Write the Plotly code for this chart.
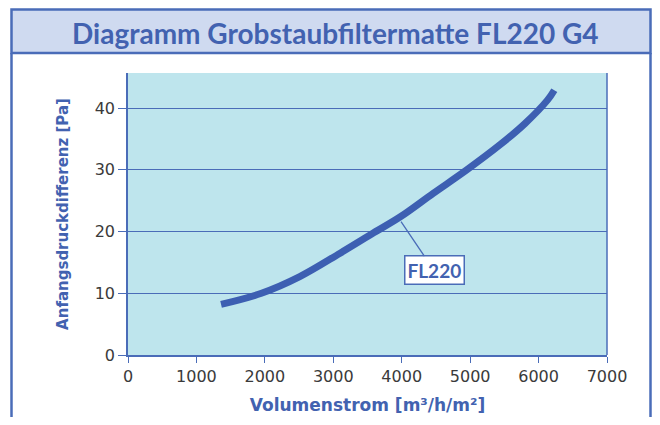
import plotly.graph_objects as go

flow = [1360, 1950, 2510, 3100, 3590, 3980, 4460, 4950, 5440, 5800, 6130, 6230]
pressure = [8.2, 10.0, 12.7, 16.5, 19.8, 22.4, 26.2, 30.0, 34.1, 37.5, 41.3, 42.9]
x_ticks = [0, 1000, 2000, 3000, 4000, 5000, 6000, 7000]
y_ticks = [0, 10, 20, 30, 40]
series_name = "FL220"

# page body has an 8px margin; positions below are in reference-image pixels
OFF = 8
W, H = 660 - 2 * OFF, 425 - 2 * OFF
L, R, T, B = 128 - OFF, 607 - OFF, 73 - OFF, 355 - OFF
BLUE = "#4262b0"
LINE = "#4a6cb8"

def px(x):
    return (min(x - OFF, W - 1.5) - L) / (R - L)

def py(y):
    return (B - min(y - OFF, H)) / (B - T)

fig = go.Figure()
fig.add_trace(go.Scatter(x=flow, y=pressure, mode="lines",
                         line=dict(color="#3d5fb2", width=7, shape="spline", smoothing=1.0),
                         name=series_name, showlegend=False))

fig.update_layout(
    width=W, height=H,
    margin=dict(l=L, r=W - R, t=T, b=H - B, autoexpand=False),
    paper_bgcolor="white",
    plot_bgcolor="#bee5ed",
    font=dict(family="DejaVu Sans", color="#3a3a3a", size=16),
    xaxis=dict(range=[0, 7000], tickvals=x_ticks, ticks="outside", ticklen=6, tickcolor=LINE,
               showline=True, linecolor=LINE, linewidth=1.5, showgrid=False, zeroline=False,
               title=dict(text="Volumenstrom [m³/h/m²]",
                          font=dict(family="DejaVu Sans", size=17, color=BLUE, weight="bold"), standoff=14)),
    yaxis=dict(range=[0, 45.7], tickvals=y_ticks, ticks="outside", ticklen=8, tickcolor=LINE,
               showline=True, linecolor=LINE, linewidth=1.5, showgrid=True, gridcolor=LINE, gridwidth=1.3,
               zeroline=False,
               title=dict(text="Anfangsdruckdifferenz [Pa]",
                          font=dict(family="DejaVu Sans", size=15, color=BLUE, weight="bold"), standoff=22)),
)

shapes = [
    dict(type="rect", xref="paper", yref="paper", x0=px(11.5), x1=px(657.5), y0=py(53), y1=py(9.5),
         fillcolor="#cfdaf0", line=dict(color=LINE, width=2.5), layer="below"),
    dict(type="line", xref="paper", yref="paper", x0=px(11.5), x1=px(11.5), y0=py(53), y1=py(430),
         line=dict(color=LINE, width=2.5)),
    dict(type="line", xref="paper", yref="paper", x0=px(657.5), x1=px(657.5), y0=py(53), y1=py(430),
         line=dict(color=LINE, width=2.5)),
    dict(type="line", xref="paper", yref="paper", x0=1, x1=1, y0=0, y1=1,
         line=dict(color=LINE, width=1.5)),
]
fig.update_layout(shapes=shapes)

fig.add_annotation(xref="paper", yref="paper", x=px(335), y=py(32.5), showarrow=False,
                   xanchor="center", yanchor="middle",
                   text="Diagramm Grobstaubfiltermatte FL220 G4",
                   font=dict(family="Lato", size=28, color=BLUE, weight="bold"))

fig.add_annotation(x=3990, y=21.6, ax=4472, ay=13.7, axref="x", ayref="y",
                   showarrow=True, arrowhead=0, arrowwidth=1.3, arrowcolor=LINE,
                   text=series_name, bgcolor="white", bordercolor=LINE, borderwidth=1.5, borderpad=2,
                   font=dict(family="Lato", size=19, color=BLUE, weight="bold"))

fig.write_html("out.html")
